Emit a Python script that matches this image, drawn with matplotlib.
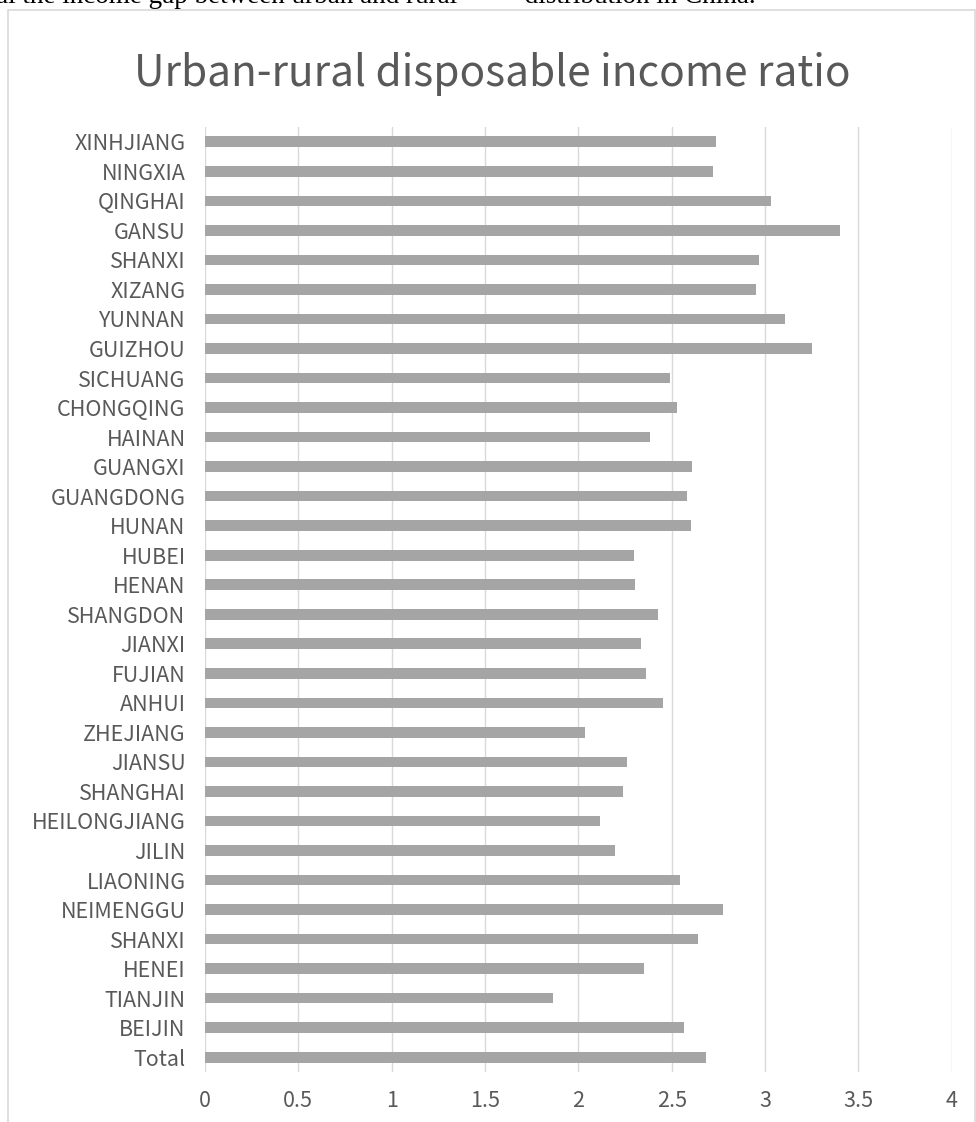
import numpy as np
import matplotlib.pyplot as plt
from matplotlib.patches import Rectangle

# bottom to top, as Excel draws them
regions = [
    "Total", "BEIJIN", "TIANJIN", "HENEI", "SHANXI", "NEIMENGGU", "LIAONING",
    "JILIN", "HEILONGJIANG", "SHANGHAI", "JIANSU", "ZHEJIANG", "ANHUI",
    "FUJIAN", "JIANXI", "SHANGDON", "HENAN", "HUBEI", "HUNAN", "GUANGDONG",
    "GUANGXI", "HAINAN", "CHONGQING", "SICHUANG", "GUIZHOU", "YUNNAN",
    "XIZANG", "SHANXI", "GANSU", "QINGHAI", "NINGXIA", "XINHJIANG",
]
ratio = [
    2.684, 2.566, 1.862, 2.350, 2.641, 2.775, 2.546,
    2.195, 2.114, 2.239, 2.262, 2.034, 2.455,
    2.362, 2.337, 2.425, 2.304, 2.298, 2.604, 2.582,
    2.607, 2.384, 2.530, 2.491, 3.250, 3.108,
    2.950, 2.969, 3.401, 3.030, 2.723, 2.735,
]
x_ticks = [0, 0.5, 1, 1.5, 2, 2.5, 3, 3.5, 4]
x_tick_labels = ["0", "0.5", "1", "1.5", "2", "2.5", "3", "3.5", "4"]

W, H = 976, 1122
text_col = "#595959"
grid_col = "#D9D9D9"
font = ["Noto Sans CJK SC", "DejaVu Sans"]
plt.rcParams["font.family"] = font

fig = plt.figure(figsize=(W / 100, H / 100), dpi=100)

# chart area border
fig.patches.append(
    Rectangle((8 / W, -0.1), (975 - 8) / W, 1.1 - 10 / H,
              transform=fig.transFigure, fill=False, edgecolor=grid_col,
              linewidth=1.2)
)

# last line of the surrounding document, mostly cut off at the top edge
fig.text(-0.004, 1 - 3 / H,
         "al the income gap between urban and rural          distribution in China.",
         family="Liberation Serif", fontsize=19.5, color="black", va="baseline")

ax = fig.add_axes([205 / W, 1 - 1072 / H, (951.7 - 205) / W, (1072 - 127) / H])
y = np.arange(len(regions))
ax.barh(y, ratio, height=0.36, color="#A5A5A5", zorder=3)

ax.set_xlim(0, 4)
ax.set_ylim(-0.5, len(regions) - 0.5)
ax.set_xticks(x_ticks)
ax.set_xticklabels(x_tick_labels)
ax.set_yticks(y)
ax.set_yticklabels(regions)
ax.tick_params(axis="both", length=0, labelsize=15.5, colors=text_col,
               labelcolor=text_col)
ax.tick_params(axis="y", pad=14)
ax.tick_params(axis="x", pad=13)
for lab in ax.get_xticklabels() + ax.get_yticklabels():
    lab.set_fontweight("light")
ax.grid(axis="x", color=grid_col, linewidth=1.0, zorder=0)
for s in ax.spines.values():
    s.set_visible(False)

fig.text(492 / W, 1 - 74 / H, "Urban-rural disposable income ratio",
         ha="center", va="center", fontsize=30.5, color=text_col,
         fontweight="light")

fig.savefig("out.png", dpi=100)
